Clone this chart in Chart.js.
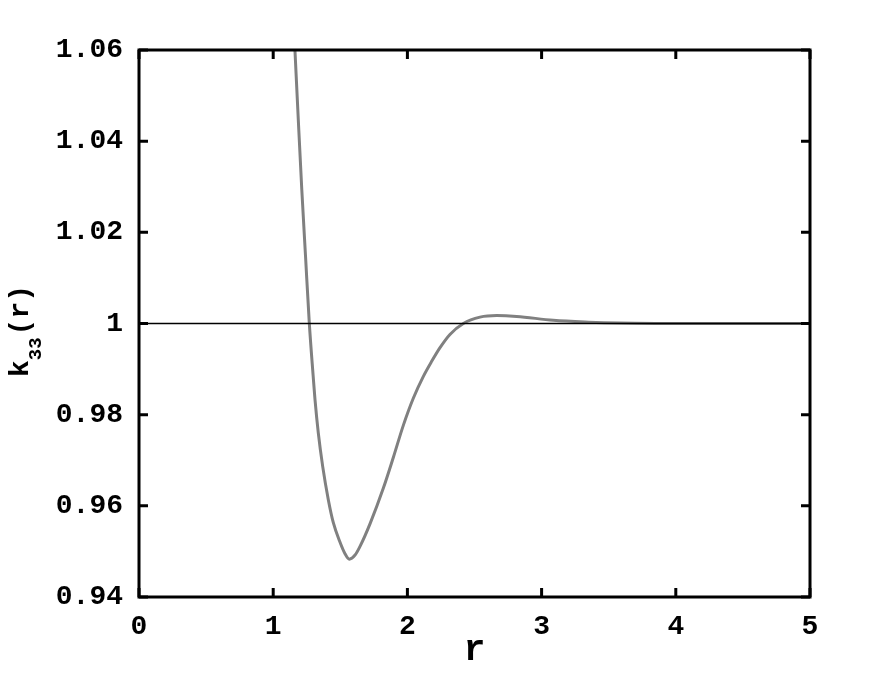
<!DOCTYPE html>
<html><head><meta charset="utf-8">
<style>html,body{margin:0;padding:0;background:#fff}#wrap{width:896px;height:674px}</style>
<script src="https://cdn.jsdelivr.net/npm/chart.js@4/dist/chart.umd.min.js"></script>
</head><body>
<div id="wrap"><canvas id="c" width="896" height="674"></canvas></div>
<script>
const rValues = [1.162,1.187,1.213,1.241,1.269,1.298,1.3115,1.336,1.369,1.411,1.448,1.498,1.535,1.567,1.610,1.647,1.722,1.821,1.895,1.969,2.044,2.119,2.181,2.243,2.317,2.417,2.541,2.665,2.814,3.087,3.35,3.584,3.9,4.3,5.0];
const kValues = [1.06,1.0447,1.0294,1.0147,1.0001,0.9884,0.9833,0.9760,0.9686,0.9613,0.9563,0.9520,0.9495,0.9483,0.9492,0.9511,0.9561,0.9639,0.9706,0.9776,0.9836,0.9884,0.9917,0.9947,0.9976,1.0000,1.0014,1.00175,1.00156,1.0007,1.0003,1.0001,1.00002,1.0,1.0];
const refR = [0, 5];
const refK = [1, 1];
const xTicks = [0,1,2,3,4,5];
const xTickLabels = ['0','1','2','3','4','5'];
const yTicks = [0.94,0.96,0.98,1,1.02,1.04,1.06];
const yTickLabels = ['0.94','0.96','0.98','1','1.02','1.04','1.06'];

const FONT = "'Liberation Mono','Courier New',monospace";

const framePlugin = {
  id: 'frame',
  afterDatasetsDraw(chart) {
    const {ctx, chartArea: a, scales: {x, y}} = chart;
    ctx.save();
    ctx.strokeStyle = '#000';
    ctx.lineWidth = 3;
    ctx.lineCap = 'butt';
    ctx.beginPath();
    xTicks.forEach(v => {
      const px = x.getPixelForValue(v);
      ctx.moveTo(px, a.bottom); ctx.lineTo(px, a.bottom - 9);
      ctx.moveTo(px, a.top); ctx.lineTo(px, a.top + 9);
    });
    yTicks.forEach(v => {
      const py = y.getPixelForValue(v);
      ctx.moveTo(a.left, py); ctx.lineTo(a.left + 9, py);
      ctx.moveTo(a.right, py); ctx.lineTo(a.right - 9, py);
    });
    ctx.stroke();
    ctx.lineJoin = 'miter';
    ctx.strokeRect(a.left, a.top, a.right - a.left, a.bottom - a.top);
    // y-axis title with subscript
    ctx.fillStyle = '#000';
    ctx.translate(28, 377);
    ctx.rotate(-Math.PI / 2);
    ctx.textBaseline = 'alphabetic';
    ctx.textAlign = 'left';
    let cx = 0;
    ctx.font = 'bold 28px ' + FONT;
    ctx.fillText('k', cx, 0); cx += ctx.measureText('k').width;
    ctx.font = 'bold 19px ' + FONT;
    ctx.fillText('33', cx, 13); cx += ctx.measureText('33').width + 2;
    ctx.font = 'bold 28px ' + FONT;
    ctx.fillText('(r)', cx, 0);
    ctx.restore();
  }
};

new Chart(document.getElementById('c'), {
  type: 'line',
  data: {
    datasets: [
      {
        data: refR.map((r, i) => ({x: r, y: refK[i]})),
        borderColor: '#000', borderWidth: 1.5, pointRadius: 0, fill: false
      },
      {
        data: rValues.map((r, i) => ({x: r, y: kValues[i]})),
        borderColor: '#808080', borderWidth: 3, pointRadius: 0, fill: false,
        cubicInterpolationMode: 'monotone'
      }
    ]
  },
  options: {
    responsive: false,
    animation: false,
    events: [],
    layout: {padding: {left: 0, top: 50, right: 86, bottom: 0}},
    plugins: {legend: {display: false}, tooltip: {enabled: false}},
    scales: {
      x: {
        type: 'linear', min: 0, max: 5,
        grid: {display: false}, border: {display: false},
        afterBuildTicks: s => { s.ticks = xTicks.map(v => ({value: v})); },
        afterFit: s => { s.height = 77; },
        ticks: {
          color: '#000', padding: 5, maxRotation: 0, autoSkip: false,
          font: {family: FONT, size: 28, weight: 'bold'},
          callback: (v, i) => xTickLabels[i]
        },
        title: {
          display: true, text: 'r', color: '#000',
          font: {family: FONT, size: 36, weight: 'bold'},
          padding: {top: 0, bottom: 1}
        }
      },
      y: {
        type: 'linear', min: 0.94, max: 1.06,
        grid: {display: false}, border: {display: false},
        afterBuildTicks: s => { s.ticks = yTicks.map(v => ({value: v})); },
        afterFit: s => { s.width = 139; },
        ticks: {
          color: '#000', padding: 8, autoSkip: false,
          font: {family: FONT, size: 28, weight: 'bold'},
          callback: (v, i) => yTickLabels[i]
        }
      }
    }
  },
  plugins: [framePlugin]
});
</script>
</body></html>
